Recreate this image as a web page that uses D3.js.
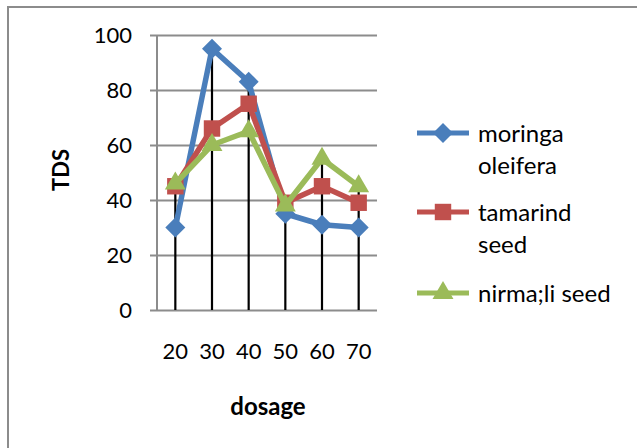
<!DOCTYPE html>
<html>
<head>
<meta charset="utf-8">
<script src="https://cdn.jsdelivr.net/npm/d3@7"></script>
<style>
  html, body { margin: 0; padding: 0; background: #fff; }
  svg { display: block; }
  text { font-family: Lato, "Open Sans", sans-serif; fill: #000; }
</style>
</head>
<body>
<svg id="chart" width="637" height="448"></svg>
<script>
// Dosage levels on the category axis
const dosages = ["20", "30", "40", "50", "60", "70"];

// TDS readings per coagulant
const moringa = [30, 95, 83, 35, 31, 30];
const tamarind = [45, 66, 75, 39, 45, 39];
const nirmali = [46, 60, 65, 38, 55, 45];

const seriesNames = ["moringa oleifera", "tamarind seed", "nirma;li seed"];
const legendLines = [["moringa", "oleifera"], ["tamarind", "seed"], ["nirma;li seed"]];
const yTicks = [0, 20, 40, 60, 80, 100];

const colors = ["#4A7EBB", "#C0504D", "#9BBB59"];
const series = [moringa, tamarind, nirmali];

// Marker shapes: square-rotated diamond, square, triangle
const squareDiamond = {
  draw(ctx, size) {
    const r = Math.sqrt(size / 2);
    ctx.moveTo(0, -r); ctx.lineTo(r, 0); ctx.lineTo(0, r); ctx.lineTo(-r, 0); ctx.closePath();
  }
};
const shapes = [squareDiamond, d3.symbolSquare, d3.symbolTriangle];
const sizes = [200, 270, 190];
const marker = k => d3.symbol().type(shapes[k]).size(sizes[k]);

const svg = d3.select("#chart");
const NUM_FS = "22px";
const TXT_FS = "24px";

// Outer frame (runs off the right and bottom edges)
svg.append("rect")
  .attr("x", 8).attr("y", 7)
  .attr("width", 660).attr("height", 470)
  .attr("fill", "none").attr("stroke", "#8c8c8c").attr("stroke-width", 2);

const plot = { left: 157, right: 377, top: 35, bottom: 310 };

const x = d3.scaleBand().domain(dosages).range([plot.left, plot.right]);
const y = d3.scaleLinear().domain([0, 100]).range([plot.bottom, plot.top]);
const cx = d => x(d) + x.bandwidth() / 2;

// Horizontal gridlines with outer tick marks
const yAxis = d3.axisLeft(y).tickValues(yTicks)
  .tickSize(-(plot.right - plot.left)).tickSizeOuter(0).tickPadding(25);
const gy = svg.append("g").attr("transform", `translate(${plot.left},0)`).call(yAxis);
gy.select(".domain").remove();
gy.selectAll(".tick line")
  .attr("x1", -7)
  .attr("stroke", "#8c8c8c").attr("stroke-width", 2);
gy.selectAll(".tick text")
  .style("font-size", NUM_FS).attr("fill", "#000");

// Vertical axis line
svg.append("line")
  .attr("x1", plot.left).attr("x2", plot.left)
  .attr("y1", plot.top).attr("y2", plot.bottom)
  .attr("stroke", "#8c8c8c").attr("stroke-width", 2);

// Category labels
const xAxis = d3.axisBottom(x).tickSize(0).tickPadding(33);
const gx = svg.append("g").attr("transform", `translate(0,${plot.bottom})`).call(xAxis);
gx.select(".domain").remove();
gx.selectAll(".tick text").style("font-size", NUM_FS).attr("fill", "#000");

// Drop lines from the highest point of each category
const maxes = dosages.map((d, i) => d3.max(series, s => s[i]));
svg.append("g").selectAll("line").data(dosages).join("line")
  .attr("x1", d => cx(d)).attr("x2", d => cx(d))
  .attr("y1", (d, i) => y(maxes[i])).attr("y2", plot.bottom)
  .attr("stroke", "#000").attr("stroke-width", 2.2);

// Series lines and markers
const line = d3.line().x((v, i) => cx(dosages[i])).y(v => y(v));
series.forEach((s, k) => {
  svg.append("path").datum(s)
    .attr("d", line).attr("fill", "none")
    .attr("stroke", colors[k]).attr("stroke-width", 5.5)
    .attr("stroke-linejoin", "round");
  svg.append("g").selectAll("path").data(s).join("path")
    .attr("transform", (v, i) => `translate(${cx(dosages[i])},${y(v)})`)
    .attr("d", marker(k))
    .attr("fill", colors[k]);
});

// Legend
const legendY = [133, 212, 293];
const lg = svg.append("g");
legendY.forEach((ly, k) => {
  lg.append("line")
    .attr("x1", 417).attr("x2", 469).attr("y1", ly).attr("y2", ly)
    .attr("stroke", colors[k]).attr("stroke-width", 5);
  lg.append("path")
    .attr("transform", `translate(443,${ly})`)
    .attr("d", marker(k))
    .attr("fill", colors[k]);
  const t = lg.append("text")
    .attr("x", 478).attr("y", ly + 9)
    .style("font-size", TXT_FS);
  legendLines[k].forEach((txt, j) => {
    t.append("tspan").attr("x", 478).attr("dy", j === 0 ? 0 : 32).text(txt);
  });
});

// Axis titles
svg.append("text")
  .attr("x", 268).attr("y", 415)
  .attr("text-anchor", "middle")
  .style("font-size", TXT_FS).style("font-weight", "bold")
  .text("dosage");
svg.append("text")
  .attr("transform", "translate(69,170) rotate(-90)")
  .attr("text-anchor", "middle")
  .style("font-size", "22px").style("font-weight", "bold")
  .text("TDS");
</script>
</body>
</html>
